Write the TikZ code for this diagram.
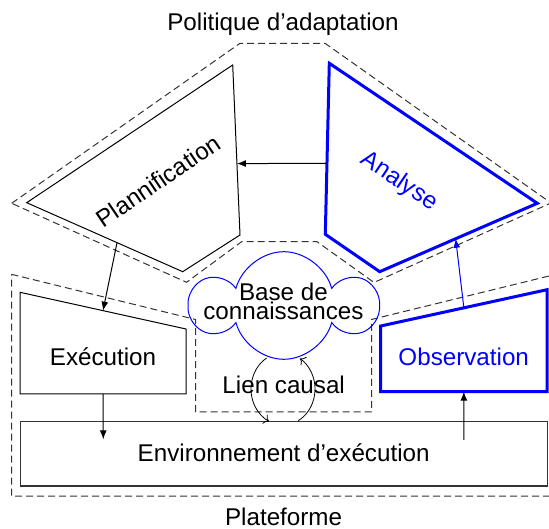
\documentclass[tikz,border=0pt]{standalone}
\usepackage{fontspec}
\setmainfont{Liberation Sans}
\usetikzlibrary{shapes.symbols,calc,arrows.meta}

\begin{document}
\begin{tikzpicture}[x=0.5pt,y=0.5pt,font=\fontsize{12.1}{14}\selectfont,
	zone/.style={draw=black!80,dash pattern=on 3.5pt off 2pt,line width=0.5pt},
	bloc/.style={draw,line width=0.5pt},
	blocactif/.style={draw=blue,line width=1.5pt},
	fleche/.style={-{Latex[length=4.5pt,width=3.5pt]},line width=0.5pt},
	boucle/.style={->,line width=0.4pt}]
	\useasboundingbox (0,0) rectangle (549,528);
	\coordinate (P1) at (26.7,325.3);
	\coordinate (P2) at (232.7,463);
	\coordinate (P3) at (240,293);
	\coordinate (P4) at (182.7,256.3);
	\coordinate (A1) at (329.3,464.7);
	\coordinate (A2) at (537.3,324.7);
	\coordinate (A3) at (379.7,256.3);
	\coordinate (A4) at (325.3,293.7);
	\coordinate (E1) at (20,235.7);
	\coordinate (E2) at (186,199);
	\coordinate (E3) at (186,134);
	\coordinate (E4) at (20,134);
	\coordinate (O1) at (380.7,202);
	\coordinate (O2) at (547,238.3);
	\coordinate (O3) at (547,136.3);
	\coordinate (O4) at (380.7,136.3);
	\draw[zone] (11.7,324.7) -- (240,484.7) -- (325,484.7) -- (551,325) -- (374,245.5)
		-- (317,286.3) -- (241.6,286.3) -- (186.5,245.7) -- cycle;
	\draw[zone] (11.5,253.7) -- (195.5,208.5) -- (195.5,116) -- (371.5,116) -- (371.5,208.5)
		-- (556,253.7) -- (556,32) -- (11.5,32) -- cycle;
	\draw[bloc] (P1) -- (P2) -- (P3) -- (P4) -- cycle;
	\draw[blocactif] (A1) -- (A2) -- (A3) -- (A4) -- cycle;
	\draw[bloc] (E1) -- (E2) -- (E3) -- (E4) -- cycle;
	\draw[blocactif] (O1) -- (O2) -- (O3) -- (O4) -- cycle;
	\node[draw=black!80,line width=0.5pt,minimum width=263.65pt,minimum height=32.15pt,
		text depth=1.7pt] (env) at (283.65,74.15) {Environnement d’exécution};
	\node[cloud,cloud puffs=6,cloud ignores aspect,draw=blue,line width=0.5pt,
		minimum width=90.5pt,minimum height=53.8pt,inner sep=0pt] (base) at (283.8,222.5) {};
	\node[align=center,font=\fontsize{12.1}{9.2}\selectfont] (basetxt) at (283.4,226.5) {Base de\\connaissances};
	\node[anchor=base] (titre) at (283,497) {Politique d’adaptation};
	\node[anchor=base] (plateforme) at (283.6,3) {Plateforme};
	\node[rotate=34] (plan) at (158,347) {Plannification};
	\node[rotate=-34,text=blue] (analyse) at (399,346.3) {Analyse};
	\node[anchor=base] (exec) at (103,162) {Exécution};
	\node[anchor=base,text=blue] (obs) at (463.7,162) {Observation};
	\node[anchor=base] (lientxt) at (283.7,134) {Lien causal};
	\coordinate (lien) at (283,139);
	\coordinate (execfin) at (103.3,88.7);
	\coordinate (obsdebut) at (463.85,88);
	\draw[fleche] ($(A4)!0.415!(A1)$) -- ($(P3)!0.42!(P2)$);
	\draw[fleche] ($(P1)!0.579!(P4)$) -- ($(E1)!0.5!(E2)$);
	\draw[fleche] ($(E4)!0.5!(E3)$) -- (execfin);
	\draw[fleche] (obsdebut) -- ($(O4)!0.5!(O3)$);
	\draw[fleche,blue] ($(O1)!0.5!(O2)$) -- ($(A3)!0.482!(A2)$);
	\draw[boucle] (lien) ++(120.6:32 and 36) arc[x radius=32,y radius=36,start angle=120.6,end angle=244];
	\draw[boucle] (lien) ++(-61.5:32 and 36) arc[x radius=32,y radius=36,start angle=-61.5,end angle=58];
\end{tikzpicture}
\end{document}
